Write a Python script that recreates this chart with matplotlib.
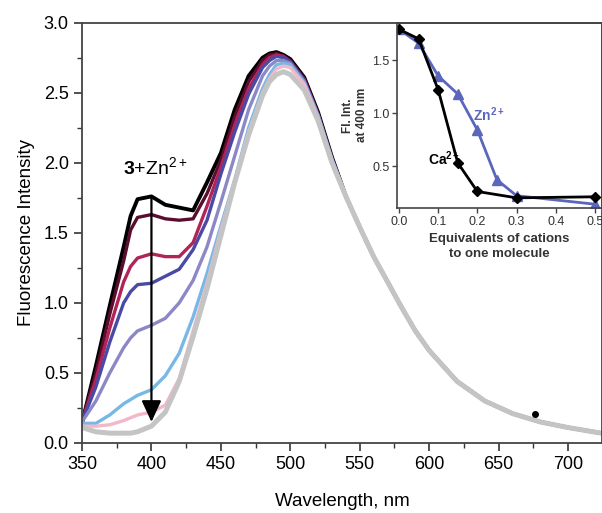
import matplotlib
matplotlib.use("Agg")
import matplotlib.pyplot as plt
from matplotlib.ticker import MultipleLocator

plt.rcParams["font.family"] = ["Liberation Sans", "DejaVu Sans"]
plt.rcParams["mathtext.fontset"] = "custom"
plt.rcParams["mathtext.rm"] = "Liberation Sans"
plt.rcParams["mathtext.bf"] = "Liberation Sans:bold"
plt.rcParams["mathtext.it"] = "Liberation Sans:italic"

# emission spectra
wl_head = [350, 360, 370, 380, 385, 390, 400, 410, 420, 430, 440, 450, 460,
           470, 480, 485, 490, 495, 500, 510, 520, 530]
wl_tail = [540, 550, 560, 570, 580, 590, 600, 620, 640, 660, 680, 700, 724]
tail = [1.76, 1.54, 1.33, 1.15, 0.97, 0.80, 0.66, 0.44, 0.30, 0.21, 0.15,
        0.11, 0.07]

black = [0.14, 0.55, 0.98, 1.40, 1.62, 1.74, 1.76, 1.70, 1.68, 1.66, 1.86,
         2.07, 2.38, 2.62, 2.75, 2.78, 2.79, 2.77, 2.74, 2.61, 2.36, 2.04]
maroon = [0.15, 0.50, 0.92, 1.30, 1.52, 1.61, 1.63, 1.60, 1.59, 1.60, 1.78,
          2.02, 2.33, 2.58, 2.73, 2.77, 2.78, 2.76, 2.73, 2.60, 2.35, 2.03]
crimson = [0.15, 0.45, 0.82, 1.15, 1.26, 1.32, 1.35, 1.33, 1.33, 1.43, 1.69,
           1.97, 2.27, 2.53, 2.70, 2.75, 2.77, 2.76, 2.72, 2.59, 2.34, 2.03]
indigo = [0.15, 0.40, 0.72, 1.00, 1.08, 1.13, 1.14, 1.19, 1.24, 1.38, 1.59,
          1.92, 2.22, 2.49, 2.68, 2.73, 2.76, 2.75, 2.72, 2.59, 2.34, 2.03]
lavender = [0.15, 0.30, 0.50, 0.68, 0.75, 0.80, 0.84, 0.89, 1.00, 1.16, 1.40,
            1.72, 2.05, 2.38, 2.62, 2.69, 2.73, 2.73, 2.71, 2.58, 2.34, 2.02]
lightblue = [0.14, 0.14, 0.20, 0.28, 0.31, 0.34, 0.38, 0.48, 0.64, 0.90, 1.21,
             1.55, 1.88, 2.25, 2.53, 2.63, 2.70, 2.71, 2.70, 2.57, 2.33, 2.02]
pink = [0.12, 0.12, 0.13, 0.16, 0.18, 0.20, 0.22, 0.27, 0.46, 0.80, 1.14,
        1.52, 1.87, 2.22, 2.50, 2.60, 2.67, 2.69, 2.68, 2.56, 2.32, 2.01]
gray = [0.11, 0.08, 0.07, 0.07, 0.07, 0.08, 0.12, 0.22, 0.44, 0.76, 1.10,
        1.48, 1.86, 2.20, 2.48, 2.58, 2.63, 2.65, 2.63, 2.52, 2.30, 2.00]

spectra = [black, maroon, crimson, indigo, lavender, lightblue, pink, gray]
colors = ["#000000", "#5c0d2e", "#b02458", "#4a4aa6", "#8c88c8",
          "#78b8e6", "#f2b8c8", "#c4c4c4"]
widths = [2.8, 2.4, 2.4, 2.4, 2.4, 2.4, 2.4, 3.6]

stray_x = [676]
stray_y = [0.21]

# inset: intensity at 400 nm vs equivalents
eq_ca = [0.0, 0.05, 0.1, 0.15, 0.2, 0.3, 0.5]
ca = [1.79, 1.70, 1.22, 0.53, 0.26, 0.20, 0.21]
eq_zn = [0.0, 0.05, 0.1, 0.15, 0.2, 0.25, 0.3, 0.5]
zn = [1.79, 1.66, 1.35, 1.18, 0.84, 0.37, 0.22, 0.14]

fig = plt.figure(figsize=(6.02, 5.13), dpi=100)
ax = fig.add_axes([0.1362, 0.1365, 0.8638, 0.8193])

for ys, c, lw in zip(spectra, colors, widths):
  ax.plot(wl_head + wl_tail, ys + tail, color=c, lw=lw,
          solid_capstyle="round", solid_joinstyle="round")
ax.plot(stray_x, stray_y, "o", color="black", ms=4)

ax.annotate("", xy=(400, 0.15), xytext=(400, 1.75),
            arrowprops=dict(arrowstyle="-|>,head_width=0.6,head_length=1.3",
                            color="black", lw=1.6, shrinkA=0, shrinkB=0))
ax.text(403, 1.97, r"$\mathbf{3}$+Zn$^{2+}$", fontsize=14, ha="center",
        va="center")

ax.set_xlim(350, 724.4)
ax.set_ylim(0, 3.0)
ax.xaxis.set_major_locator(MultipleLocator(50))
ax.xaxis.set_minor_locator(MultipleLocator(25))
ax.yaxis.set_major_locator(MultipleLocator(0.5))
ax.yaxis.set_minor_locator(MultipleLocator(0.25))
ax.yaxis.set_major_formatter(plt.FuncFormatter(lambda v, p: f"{v:.1f}"))
ax.tick_params(which="major", direction="out", length=6, width=1.2,
               labelsize=13, color="#333333")
ax.tick_params(which="minor", direction="out", length=3.5, width=1.0,
               color="#333333")
for s in ax.spines.values():
  s.set_linewidth(1.3)
  s.set_color("#444444")
ax.set_xlabel("Wavelength, nm", fontsize=13.5, labelpad=14)
ax.set_ylabel("Fluorescence Intensity", fontsize=13.5, labelpad=6)

ins = fig.add_axes([0.6595, 0.5945, 0.3405, 0.3616])
ins.patch.set_alpha(0)
ins.plot(eq_zn, zn, "-^", color="#5b66bd", lw=2, ms=6.5)
ins.plot(eq_ca, ca, "-D", color="black", lw=2, ms=5)
ins.text(0.19, 0.98, r"$\mathbf{Zn^{2+}}$", color="#5b66bd", fontsize=10,
         va="center")
ins.text(0.074, 0.57, r"$\mathbf{Ca^{2+}}$", color="black", fontsize=10,
         va="center")
ins.set_xlim(-0.005, 0.518)
ins.set_ylim(0.104, 1.854)
ins.xaxis.set_major_locator(MultipleLocator(0.1))
ins.yaxis.set_major_locator(MultipleLocator(0.5))
ins.xaxis.set_major_formatter(plt.FuncFormatter(lambda v, p: f"{v:.1f}"))
ins.yaxis.set_major_formatter(plt.FuncFormatter(lambda v, p: f"{v:.1f}"))
ins.tick_params(direction="out", length=3.5, width=1, labelsize=9,
                labelcolor="#333333", color="#444444", pad=2)
for s in ins.spines.values():
  s.set_linewidth(1.2)
  s.set_color("#444444")
ins.set_xlabel("Equivalents of cations\nto one molecule", fontsize=9.5,
               fontweight="bold", color="#333333", labelpad=4,
               linespacing=1.3)
ins.set_ylabel("Fl. Int.\nat 400 nm", fontsize=8.5, fontweight="bold",
               color="#333333", labelpad=3, linespacing=1.2)

fig.savefig("out.png", dpi=100)
